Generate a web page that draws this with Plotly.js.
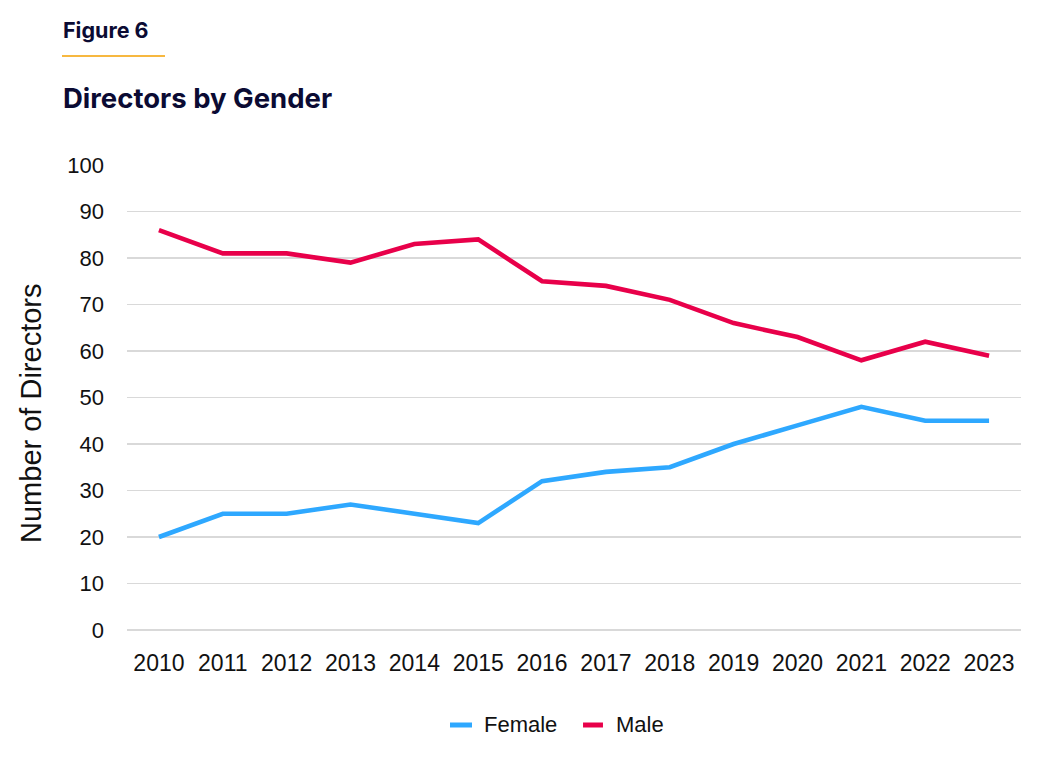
<!DOCTYPE html>
<html>
<head>
<meta charset="utf-8">
<script src="https://cdn.plot.ly/plotly-3.0.1.min.js"></script>
<style>html,body{margin:0;padding:0;background:#fff;}#chart{width:1052px;height:758px;}</style>
</head>
<body>
<div id="chart"></div>
<script>
const years = ['2010','2011','2012','2013','2014','2015','2016','2017','2018','2019','2020','2021','2022','2023'];
const female = [20,25,25,27,25,23,32,34,35,40,44,48,45,45];
const male = [86,81,81,79,83,84,75,74,71,66,63,58,62,59];
const yTicks = [0,10,20,30,40,50,60,70,80,90,100];
const seriesNames = ['Female', 'Male'];
const seriesColors = ['#2ea8ff', '#e8004a'];

const TFONT = 'Inter, Roboto, "Liberation Sans", sans-serif';
const FONT = '"Liberation Sans", Arial, sans-serif';
const traces = [
  {x: years, y: female, name: seriesNames[0], type: 'scatter', mode: 'lines',
   line: {color: seriesColors[0], width: 4.6}},
  {x: years, y: male, name: seriesNames[1], type: 'scatter', mode: 'lines',
   line: {color: seriesColors[1], width: 4.6}}
];
const layout = {
  width: 1052, height: 758,
  margin: {l: 127, r: 31, t: 165, b: 128},
  paper_bgcolor: '#fff', plot_bgcolor: '#fff',
  font: {family: FONT, color: '#111', size: 22},
  showlegend: false,
  xaxis: {type: 'category', range: [-0.5, 13.5], showgrid: false, zeroline: false,
          showline: false, ticks: '', ticklabelstandoff: 17,
          tickfont: {size: 23, color: '#111'}, fixedrange: true},
  yaxis: {range: [0, 100], tickvals: yTicks, ticktext: yTicks.map(String),
          showgrid: true, gridcolor: '#d9d9d9', gridwidth: 1.3,
          zeroline: true, zerolinecolor: '#d9d9d9', zerolinewidth: 1.3,
          showline: false, ticks: '', ticklabelstandoff: 22,
          tickfont: {size: 22, color: '#111'}},
  shapes: [
    {type: 'line', xref: 'paper', yref: 'paper', x0: -0.0727, x1: 0.0425, y0: 1.2344, y1: 1.2344,
     line: {color: '#f5a000', width: 1.5}},
    {type: 'line', xref: 'paper', yref: 'paper', x0: 0.3613, x1: 0.3859, y0: -0.2043, y1: -0.2043,
     line: {color: seriesColors[0], width: 5}},
    {type: 'line', xref: 'paper', yref: 'paper', x0: 0.5101, x1: 0.5324, y0: -0.2043, y1: -0.2043,
     line: {color: seriesColors[1], width: 5}}
  ],
  annotations: [
    {text: '<b>Figure 6</b>', xref: 'paper', yref: 'paper', x: -0.0738, y: 1.290,
     xanchor: 'left', yanchor: 'middle', showarrow: false,
     font: {size: 21.5, color: '#0b0b33', family: TFONT}},
    {text: '<b>Directors by Gender</b>', xref: 'paper', yref: 'paper', x: -0.0738, y: 1.144,
     xanchor: 'left', yanchor: 'middle', showarrow: false,
     font: {size: 27.5, color: '#0b0b33', family: TFONT}},
    {text: 'Number of Directors', xref: 'paper', yref: 'paper', x: -0.1074, y: 0.4667,
     xanchor: 'center', yanchor: 'middle', textangle: -90, showarrow: false,
     font: {size: 29, color: '#111'}},
    {text: seriesNames[0], xref: 'paper', yref: 'paper', x: 0.3975, y: -0.2043,
     xanchor: 'left', yanchor: 'middle', showarrow: false, font: {size: 22, color: '#111'}},
    {text: seriesNames[1], xref: 'paper', yref: 'paper', x: 0.5452, y: -0.2043,
     xanchor: 'left', yanchor: 'middle', showarrow: false, font: {size: 22, color: '#111'}}
  ]
};
Plotly.newPlot('chart', traces, layout, {displayModeBar: false, staticPlot: true});
</script>
</body>
</html>
